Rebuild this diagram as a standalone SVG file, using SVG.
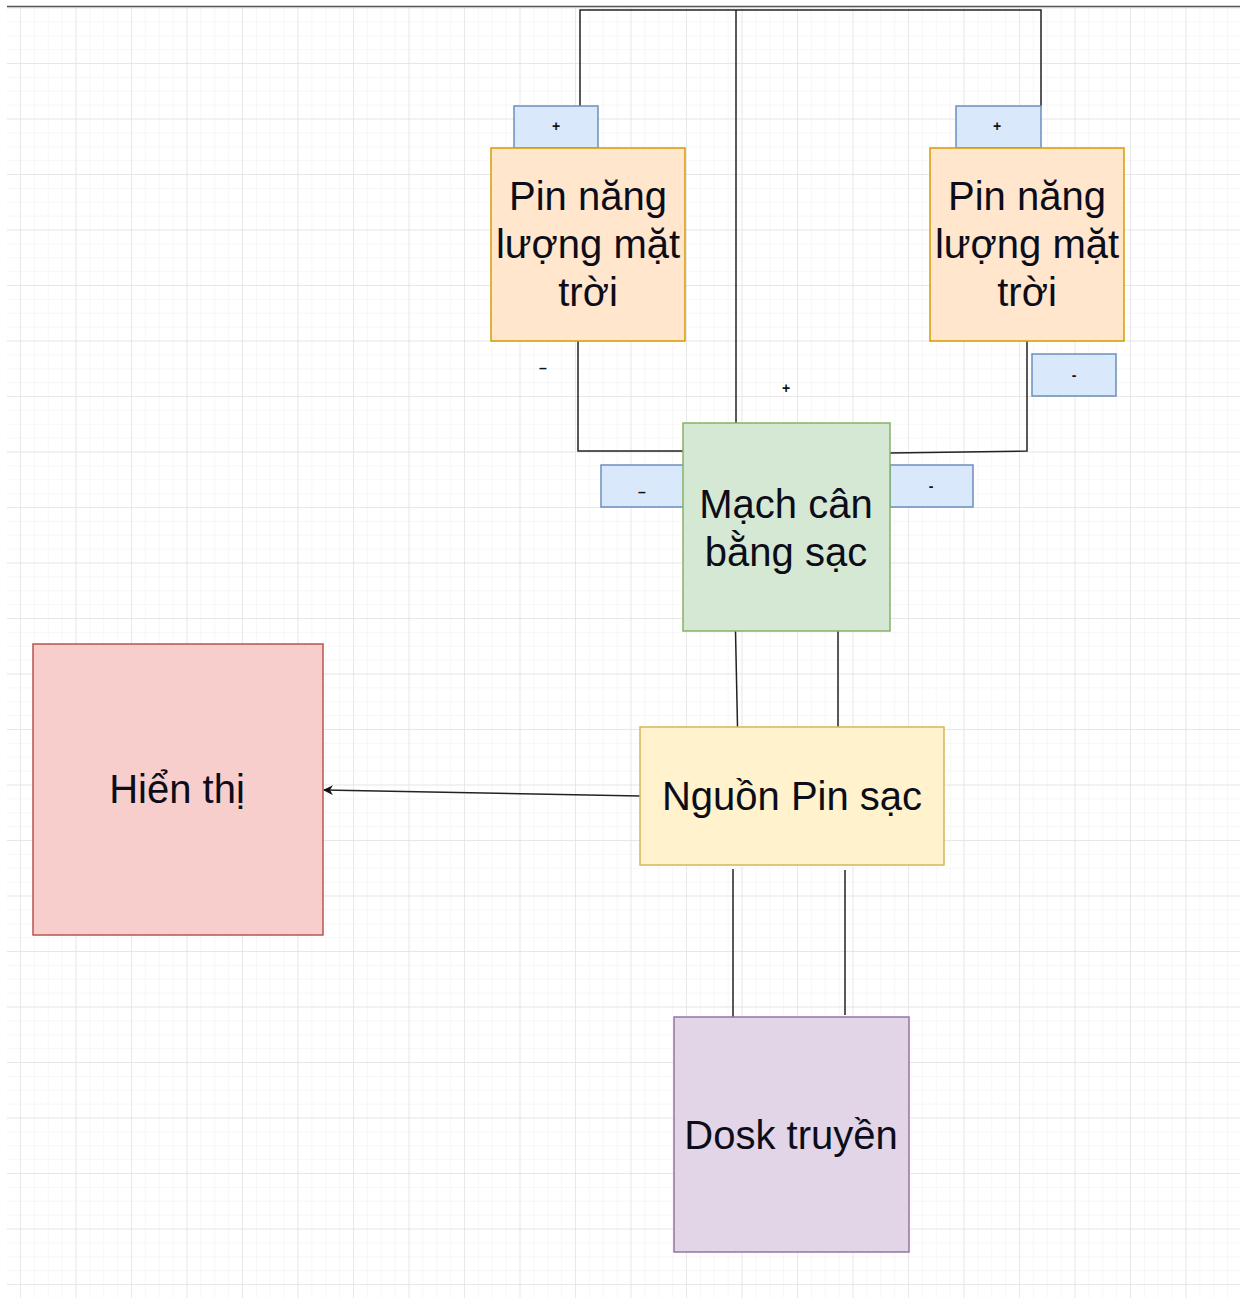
<svg xmlns="http://www.w3.org/2000/svg" width="1246" height="1298" viewBox="0 0 1246 1298">
  <defs>
    <pattern id="minorGrid" patternUnits="userSpaceOnUse" x="20" y="7.5" width="13.875" height="13.875">
      <path d="M0 0V13.875M0 0H13.875" fill="none" stroke="#efefef" stroke-width="1"/>
    </pattern>
    <pattern id="majorGrid" patternUnits="userSpaceOnUse" x="20" y="7.5" width="55.5" height="55.5">
      <path d="M0 0V55.5M0 0H55.5" fill="none" stroke="#e2e2e2" stroke-width="1.3"/>
    </pattern>
    <marker id="arrowHead" viewBox="0 0 10 10" refX="9" refY="5" markerWidth="10" markerHeight="10" markerUnits="userSpaceOnUse" orient="auto">
      <path d="M0 0L10 5L0 10L3 5Z" fill="#111"/>
    </marker>
  </defs>
  <style>
    .wire { fill: none; stroke: #222; stroke-width: 1.5; }
    .label { font-family: "Liberation Sans", Arial, sans-serif; font-size: 40px; fill: #0d0d1a; text-anchor: middle; }
    .pin { font-family: "Liberation Sans", Arial, sans-serif; font-size: 14px; font-weight: bold; fill: #111; text-anchor: middle; }
    .term { fill: #dae8fc; stroke: #6c8ebf; stroke-width: 1.5; }
  </style>

  <!-- canvas background with grid -->
  <rect x="0" y="0" width="1246" height="1298" fill="#ffffff"/>
  <rect x="7" y="7" width="1233" height="1291" fill="url(#minorGrid)"/>
  <rect x="7" y="7" width="1233" height="1291" fill="url(#majorGrid)"/>
  <line x1="7" y1="6.5" x2="1240" y2="6.5" stroke="#555" stroke-width="1.5"/>

  <!-- wiring -->
  <g id="connectors">
    <path class="wire" d="M580 106V10H1041V106"/>
    <path class="wire" d="M736 10V423"/>
    <path class="wire" d="M578 341V451H683"/>
    <path class="wire" d="M1027 341V451L890 453"/>
    <path class="wire" d="M735.5 631L737.5 727"/>
    <path class="wire" d="M838 631V727"/>
    <path class="wire" d="M733 869V1017"/>
    <path class="wire" d="M845 870V1015"/>
    <path class="wire" d="M640 796L324 790" marker-end="url(#arrowHead)"/>
  </g>

  <!-- loose polarity marks -->
  <g id="markMinusLeft"><text class="pin" x="543" y="373">–</text></g>
  <g id="markPlusCenter"><text class="pin" x="786" y="393">+</text></g>

  <!-- solar panel 1 -->
  <g id="termPlus1">
    <rect class="term" x="514" y="106" width="84" height="42"/>
    <text class="pin" x="556" y="131">+</text>
  </g>
  <g id="solarPanel1">
    <rect x="491" y="148" width="194" height="193" fill="#ffe6cc" stroke="#d79b00" stroke-width="1.5"/>
    <text class="label" x="588" y="210">Pin năng</text>
    <text class="label" x="588" y="258">lượng mặt</text>
    <text class="label" x="588" y="306">trời</text>
  </g>

  <!-- solar panel 2 -->
  <g id="termPlus2">
    <rect class="term" x="956" y="106" width="85" height="42"/>
    <text class="pin" x="997" y="131">+</text>
  </g>
  <g id="solarPanel2">
    <rect x="930" y="148" width="194" height="193" fill="#ffe6cc" stroke="#d79b00" stroke-width="1.5"/>
    <text class="label" x="1027" y="210">Pin năng</text>
    <text class="label" x="1027" y="258">lượng mặt</text>
    <text class="label" x="1027" y="306">trời</text>
  </g>
  <g id="termMinus2">
    <rect class="term" x="1032" y="354" width="84" height="42"/>
    <text class="pin" x="1074" y="380">-</text>
  </g>

  <!-- balance charger -->
  <g id="termMinusLeft">
    <rect class="term" x="601" y="465" width="84" height="42"/>
    <text class="pin" x="642" y="497">–</text>
  </g>
  <g id="termMinusRight">
    <rect class="term" x="890" y="465" width="83" height="42"/>
    <text class="pin" x="931" y="491">-</text>
  </g>
  <g id="balanceCharger">
    <rect x="683" y="423" width="207" height="208" fill="#d5e8d4" stroke="#82b366" stroke-width="1.5"/>
    <text class="label" x="786" y="518">Mạch cân</text>
    <text class="label" x="786" y="566">bằng sạc</text>
  </g>

  <!-- battery -->
  <g id="battery">
    <rect x="640" y="727" width="304" height="138" fill="#fff2cc" stroke="#d6b656" stroke-width="1.5"/>
    <text class="label" x="792" y="810">Nguồn Pin sạc</text>
  </g>

  <!-- display -->
  <g id="display">
    <rect x="33" y="644" width="290" height="291" fill="#f8cecc" stroke="#b85450" stroke-width="1.5"/>
    <text class="label" x="177" y="803">Hiển thị</text>
  </g>

  <!-- drive -->
  <g id="drive">
    <rect x="674" y="1017" width="235" height="235" fill="#e1d5e7" stroke="#9673a6" stroke-width="1.5"/>
    <text class="label" x="791" y="1149">Dosk truyền</text>
  </g>
</svg>
